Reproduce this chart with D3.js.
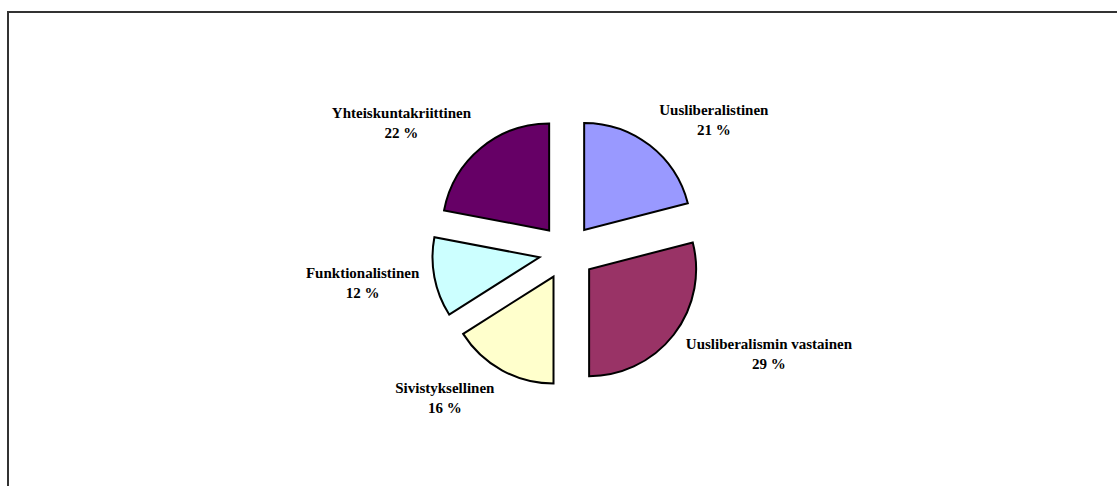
<!DOCTYPE html>
<head>
<meta charset="utf-8">
<style>
body { margin: 0; background: #fff; }
svg .frame { fill: none; stroke: #333; stroke-width: 2px; }
svg .slice { stroke: #000; stroke-width: 2px; stroke-linejoin: miter; }
svg text { font: bold 15px "Liberation Serif", "Times New Roman", serif; fill: #000; }
</style>
</head>
<body>
<script src="https://d3js.org/d3.v7.min.js"></script>
<script>
  // data
  var categories = ["Uusliberalistinen", "Uusliberalismin vastainen", "Sivistyksellinen",
                    "Funktionalistinen", "Yhteiskuntakriittinen"];
  var values = [21, 29, 16, 12, 22];
  var colors = ["#9999FF", "#993366", "#FFFFCC", "#CCFFFF", "#660066"];

  var width = 1117, height = 486;
  var cx = 567, cy = 252,      // pie centre
      radius = 107,            // slice radius
      explode = 28,            // slice offset from centre
      labelRadius = 150;       // label anchor distance

  var svg = d3.select("body").append("svg")
      .attr("width", width)
      .attr("height", height);

  // chart area frame (runs off the right and bottom of the window)
  svg.append("rect")
      .classed("frame", true)
      .attr("x", 8)
      .attr("y", 12)
      .attr("width", width + 20)
      .attr("height", height + 20);

  var pie = d3.pie().sort(null).value(function (d) { return d; });
  var arcs = pie(values);
  var arc = d3.arc().innerRadius(0).outerRadius(radius);

  var g = svg.append("g")
      .attr("transform", "translate(" + cx + "," + cy + ")");

  function mid(d) { return (d.startAngle + d.endAngle) / 2; }

  g.selectAll("path.slice")
    .data(arcs)
    .enter().append("path")
      .classed("slice", true)
      .attr("d", arc)
      .attr("fill", function (d, i) { return colors[i]; })
      .attr("transform", function (d) {
        var a = mid(d);
        return "translate(" + (explode * Math.sin(a)) + "," + (-explode * Math.cos(a)) + ")";
      });

  // labels: name + percent, placed outside each slice
  var labels = g.selectAll("g.label")
    .data(arcs)
    .enter().append("g")
      .classed("label", true);

  labels.append("text")
      .attr("text-anchor", "middle")
      .attr("y", -5)
      .text(function (d, i) { return categories[i]; });

  labels.append("text")
      .attr("text-anchor", "middle")
      .attr("y", 15)
      .text(function (d) { return d.data + " %"; });

  labels.attr("transform", function (d) {
    var a = mid(d), s = Math.sin(a), c = Math.cos(a);
    var w = this.getBBox().width, h = 34;
    var x = labelRadius * s + Math.sign(s) * w / 2;
    var y = -labelRadius * c - c * h / 2;
    return "translate(" + x + "," + y + ")";
  });
</script>
</body>
</html>
